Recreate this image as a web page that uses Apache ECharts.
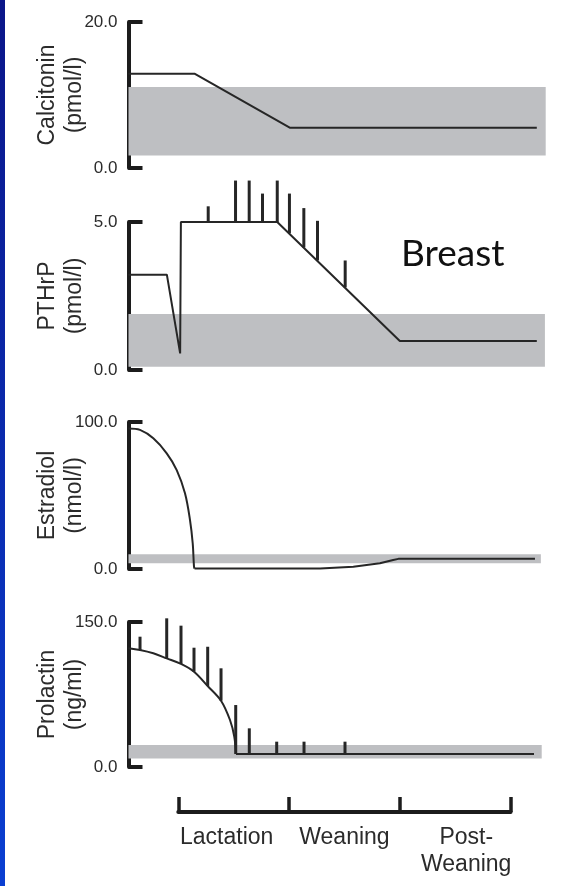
<!DOCTYPE html>
<html>
<head>
<meta charset="utf-8">
<script src="https://cdn.jsdelivr.net/npm/echarts@6/dist/echarts.min.js"></script>
<style>
  html, body { margin: 0; padding: 0; background: #ffffff; }
  #chart { width: 567px; height: 886px; }
</style>
</head>
<body>
<div id="chart"></div>
<script>
// Shared time axis (weeks from the start of lactation)
const timeExtent = [-1.349, 9.951];
const phaseLabels = ['Lactation', 'Weaning', 'Post-\nWeaning'];

// Calcitonin (pmol/l)
const calcitoninLine = [[-1.349, 12.9], [0.45, 12.9], [3.03, 5.5], [9.71, 5.5]];
const calcitoninRange = [1.7, 11.1];
const calcitoninRangeEnd = 9.951;

// PTHrP (pmol/l)
const pthrpLine = [[-1.349, 3.22], [-0.31, 3.22], [0.05, 0.56], [0.07, 5.0], [2.68, 5.0], [6.0, 0.98], [9.71, 0.98]];
const pthrpErrX = [0.81, 1.55, 1.92, 2.28, 2.68, 3.01, 3.40, 3.77, 4.52];
const pthrpErrLow = [5.0, 5.0, 5.0, 5.0, 5.0, 4.62, 4.14, 3.70, 2.79];
const pthrpErrHigh = [5.53, 6.40, 6.40, 5.96, 6.40, 5.96, 5.47, 5.04, 3.70];
const pthrpRange = [0.11, 1.89];
const pthrpRangeEnd = 9.93;

// Estradiol (nmol/l)
const estradiolFall = [[-1.349, 95.6], [-1.037, 94.6], [-0.677, 88.9], [-0.314, 78.7], [-0.043, 67.3], [0.181, 51.5], [0.317, 33.3], [0.390, 17.5], [0.425, 1.6], [0.44, 0.3]];
const estradiolLate = [[0.44, 0.3], [3.84, 0.3], [4.74, 1.6], [5.46, 3.9], [5.82, 6.1], [5.96, 6.9], [9.66, 6.9]];
const estradiolRange = [3.9, 10.0];
const estradiolRangeEnd = 9.82;

// Prolactin (ng/ml)
const prolactinFall = [[-1.349, 122.8], [-1.037, 121.0], [-0.677, 117.6], [-0.314, 112.4], [0.073, 106.6], [0.425, 98.6], [0.796, 83.8], [1.157, 68.6], [1.400, 48.6], [1.517, 31.3], [1.563, 13.4]];
const prolactinLate = [[1.563, 13.4], [9.634, 13.4]];
const prolactinErrX = [-1.037, -0.314, 0.073, 0.425, 0.796, 1.157, 1.555, 1.923, 2.665, 3.405, 4.515];
const prolactinErrLow = [121.0, 112.4, 106.6, 98.6, 83.8, 68.6, 13.4, 13.4, 13.4, 13.4, 13.4];
const prolactinErrHigh = [134.8, 153.8, 146.2, 123.4, 124.4, 102.1, 64.1, 40.0, 26.2, 26.2, 26.2];
const prolactinRange = [8.8, 22.8];
const prolactinRangeEnd = 9.843;

const panels = [
  { name: 'Calcitonin\n(pmol/l)', max: 20,  top: 22,  height: 146, lines: [calcitoninLine], range: calcitoninRange, rangeEnd: calcitoninRangeEnd },
  { name: 'PTHrP\n(pmol/l)',      max: 5,   top: 222, height: 148, lines: [pthrpLine], range: pthrpRange, rangeEnd: pthrpRangeEnd,
    err: [pthrpErrX, pthrpErrLow, pthrpErrHigh] },
  { name: 'Estradiol\n(nmol/l)',  max: 100, top: 422, height: 147, lines: [estradiolFall, estradiolLate], smooth: true, range: estradiolRange, rangeEnd: estradiolRangeEnd },
  { name: 'Prolactin\n(ng/ml)',   max: 150, top: 622, height: 145, lines: [prolactinFall, prolactinLate], smooth: true, range: prolactinRange, rangeEnd: prolactinRangeEnd,
    err: [prolactinErrX, prolactinErrLow, prolactinErrHigh] }
];

const INK = '#262626';
const BAND = '#bebfc2';
const FONT = 'Liberation Sans, Arial, sans-serif';

const grid = [], xAxis = [], yAxis = [], series = [];

panels.forEach((p, i) => {
  grid.push({ left: 128.5, right: 21.3, top: p.top, height: p.height });
  xAxis.push({ type: 'value', gridIndex: i, min: timeExtent[0], max: timeExtent[1], show: false });
  yAxis.push({
    type: 'value', gridIndex: i, min: 0, max: p.max, interval: p.max,
    name: p.name, nameLocation: 'middle', nameRotate: 90, nameGap: 40, nameMoveOverlap: false,
    nameTextStyle: { fontFamily: FONT, fontSize: 23, lineHeight: 27, color: '#2b2b2b', align: 'center' },
    axisLine: { show: true, onZero: false, lineStyle: { color: '#1c1c1c', width: 4 } },
    axisTick: { show: true, inside: true, length: 14, lineStyle: { color: '#1c1c1c', width: 4 } },
    axisLabel: { fontFamily: FONT, fontSize: 17, color: '#2b2b2b', margin: 11, formatter: v => v.toFixed(1) },
    splitLine: { show: false }
  });

  // reference range band
  series.push({
    type: 'custom', xAxisIndex: i, yAxisIndex: i, z: 1, silent: true, animation: false,
    data: [[timeExtent[0], p.rangeEnd, p.range[0], p.range[1]]],
    renderItem: (params, api) => {
      const a = api.coord([api.value(0), api.value(3)]);
      const b = api.coord([api.value(1), api.value(2)]);
      return { type: 'rect', shape: { x: a[0], y: a[1], width: b[0] - a[0], height: b[1] - a[1] }, style: { fill: BAND } };
    }
  });

  p.lines.forEach((pts, k) => {
    series.push({
      type: 'line', xAxisIndex: i, yAxisIndex: i, z: 3, animation: false, silent: true,
      data: pts, showSymbol: false, symbol: 'none',
      smooth: p.smooth && k === 0 ? 0.35 : false,
      lineStyle: { color: INK, width: 2 }
    });
  });

  if (p.err) {
    const [ex, lo, hi] = p.err;
    series.push({
      type: 'custom', xAxisIndex: i, yAxisIndex: i, z: 4, clip: false, silent: true, animation: false,
      data: ex.map((x, j) => [x, lo[j], hi[j]]),
      encode: { x: 0, y: [1, 2] },
      renderItem: (params, api) => {
        const a = api.coord([api.value(0), api.value(1)]);
        const b = api.coord([api.value(0), api.value(2)]);
        return { type: 'line', shape: { x1: a[0], y1: a[1], x2: b[0], y2: b[1] }, style: { stroke: INK, lineWidth: 3 } };
      }
    });
  }
});

// phase bar along the bottom
const pi = panels.length;
grid.push({ left: 178.3, right: 56.4, top: 797, height: 15 });
xAxis.push({
  type: 'category', gridIndex: pi, boundaryGap: true,
  data: [
    { value: phaseLabels[0], textStyle: { padding: [0, 14, 0, 0] } },
    { value: phaseLabels[1] },
    { value: phaseLabels[2], textStyle: { padding: [0, 0, 0, 22] } }
  ],
  axisLine: { show: true, lineStyle: { color: '#1c1c1c', width: 4 } },
  axisTick: { show: true, inside: true, length: 15, alignWithLabel: false, lineStyle: { color: '#1c1c1c', width: 3.5 } },
  axisLabel: { fontFamily: FONT, fontSize: 23, lineHeight: 27, color: '#2b2b2b', margin: 12, interval: 0 }
});
yAxis.push({ type: 'value', gridIndex: pi, show: false });

const chart = echarts.init(document.getElementById('chart'), null, { renderer: 'canvas' });
chart.setOption({
  animation: false,
  backgroundColor: '#ffffff',
  grid, xAxis, yAxis, series,
  graphic: [
    {
      type: 'rect', left: 0, top: 0, z: 10,
      shape: { width: 5, height: 886 },
      style: { fill: new echarts.graphic.LinearGradient(0, 0, 0, 1, [{ offset: 0, color: '#0b1689' }, { offset: 1, color: '#0a3fd2' }]) }
    },
    {
      type: 'text', left: 401, top: 236, z: 10,
      style: { text: 'Breast', font: '37px Lato, "Open Sans", sans-serif', fill: '#111111' }
    }
  ]
});
</script>
</body>
</html>
